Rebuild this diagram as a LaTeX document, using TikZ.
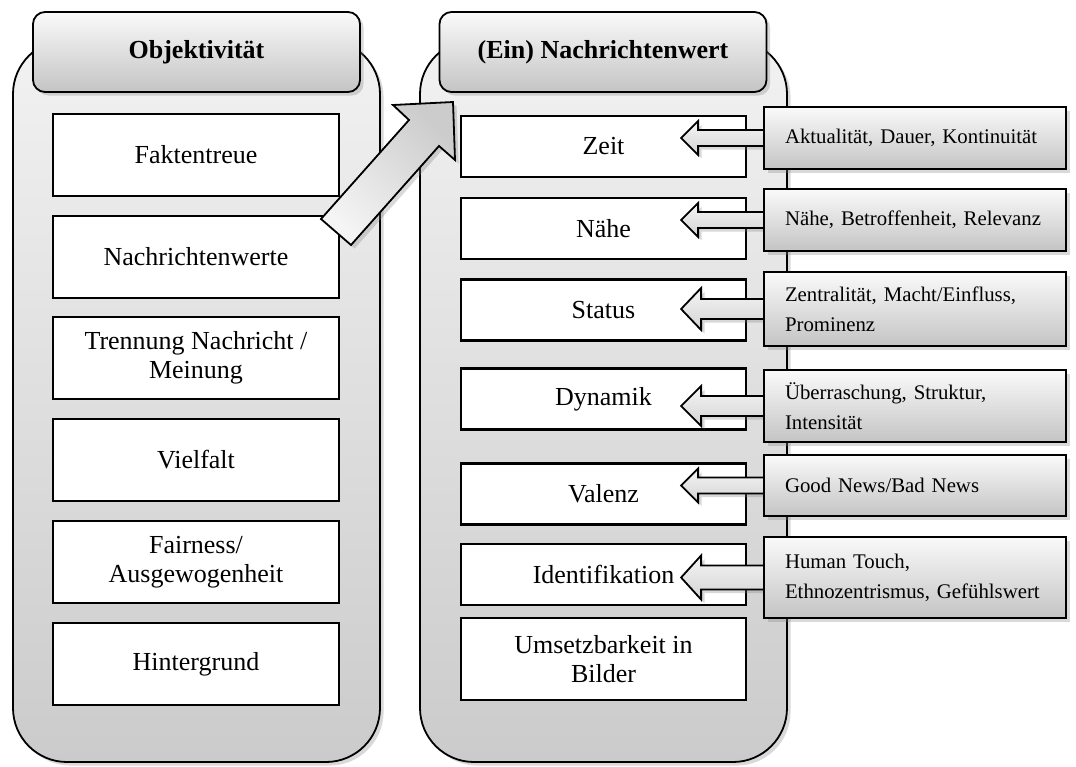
\documentclass[tikz,border=0pt]{standalone}
\usepackage{fontspec}
\setmainfont{Liberation Serif}
\usepackage{xcolor}
\usepackage{tikz}
\usetikzlibrary{positioning, shadows}

\definecolor{paneltop}{HTML}{F2F2F2}
\definecolor{panelbot}{HTML}{CBCBCB}
\definecolor{capstop}{HTML}{FAFAFA}
\definecolor{capsbot}{HTML}{C4C4C4}

\pgfdeclarelayer{front}
\pgfsetlayers{main,front}

\begin{document}
\begin{tikzpicture}[
    x=0.5pt, y=-0.5pt,
    softshadow/.style={drop shadow={opacity=0.3, shadow xshift=1.8pt, shadow yshift=-1.8pt}},
    panel/.style={rectangle, draw, line width=0.9pt, rounded corners=27pt, top color=paneltop, bottom color=panelbot, minimum width=183.5pt, minimum height=361pt, softshadow},
    capbox/.style={rectangle, draw, line width=0.9pt, rounded corners=6pt, top color=capstop, bottom color=capsbot, minimum width=163.5pt, minimum height=40pt, font=\bfseries\fontsize{13}{15}\selectfont, softshadow},
    box/.style={rectangle, draw, line width=1.2pt, fill=white, minimum width=143pt, minimum height=41pt, align=center, font=\fontsize{13}{14.5}\selectfont},
    valbox/.style={box, minimum width=142.5pt, minimum height=30.5pt},
    notebox/.style={rectangle, draw, line width=0.9pt, top color=capstop, bottom color=capsbot, minimum width=151pt, inner xsep=10.5pt, text width=130pt, align=left, font=\fontsize{10.4}{15}\selectfont, softshadow},
    blockarrow/.style={draw, line width=0.9pt, top color=black!4, bottom color=black!17, softshadow},
    bigarrow/.style={draw, line width=0.9pt, top color=black!4, bottom color=black!20, shading angle=135, softshadow}
]
\useasboundingbox (0,0) rectangle (1076,766);

% Objektivitaet
\node[panel] (objpanel) at (196.5,401) {};
\node[capbox] (objcap) at (196.5,52) {Objektivität};
\node[box] (fakt) at (196,155) {Faktentreue};
\node[box] (nwerte) at (196,257) {Nachrichtenwerte};
\node[box] (trenn) at (196,358) {Trennung Nachricht /\\ Meinung};
\node[box] (vielf) at (196,460) {Vielfalt};
\node[box] (fair) at (196,562) {Fairness/\\ Ausgewogenheit};
\node[box] (hinter) at (196,664) {Hintergrund};

% (Ein) Nachrichtenwert
\node[panel] (nwpanel) at (603.5,401) {};
\node[capbox] (nwcap) at (603,52) {(Ein) Nachrichtenwert};
\node[valbox] (zeit) at (603.5,146.5) {Zeit};
\node[valbox] (naehe) at (603.5,228.5) {Nähe};
\node[valbox] (status) at (603.5,310) {Status};
\node[valbox] (dynamik) at (603.5,399) {Dynamik};
\node[valbox] (valenz) at (603.5,494) {Valenz};
\node[valbox] (ident) at (603.5,574.5) {Identifikation};
\node[box, minimum width=142.5pt] (bilder) at (603.5,659) {Umsetzbarkeit in\\ Bilder};

% Faktoren
\begin{pgfonlayer}{front}
\node[notebox, minimum height=31pt] (tzeit) at (915,138) {Aktualität, Dauer, Kontinuität};
\node[notebox, minimum height=31pt] (tnaehe) at (915,220) {Nähe, Betroffenheit, Relevanz};
\node[notebox, minimum height=37pt] (tstatus) at (915,309) {Zentralität, Macht/Einfluss,\\ Prominenz};
\node[notebox, minimum height=36pt] (tdyn) at (915,406) {Überraschung, Struktur,\\ Intensität};
\node[notebox, minimum height=30.5pt] (tval) at (915,485.5) {Good News/Bad News};
\node[notebox, minimum height=40.5pt] (tident) at (915,577.5) {Human Touch,\\ Ethnozentrismus, Gefühlswert};

% Pfeil
\draw[bigarrow] (321,219) -- (409,120) -- (393,105) -- (453,102) -- (455,160) -- (439,146) -- (351,245) -- cycle;
\end{pgfonlayer}

% Pfeile
\foreach \n/\sw/\hw/\hl in {tzeit/8/17/17, tnaehe/8/17/17, tstatus/10/21/20, tdyn/10/20/20, tval/8/17/17, tident/12/22/20}
  \draw[blockarrow] ([xshift=4pt]\n.west) ++(0,-\sw) -- ++({-(90-\hl)},0) -- ++(0,{-(\hw-\sw)}) -- ++(-\hl,\hw) -- ++(\hl,\hw) -- ++(0,{-(\hw-\sw)}) -- ++({90-\hl},0) -- cycle;

\end{tikzpicture}
\end{document}
